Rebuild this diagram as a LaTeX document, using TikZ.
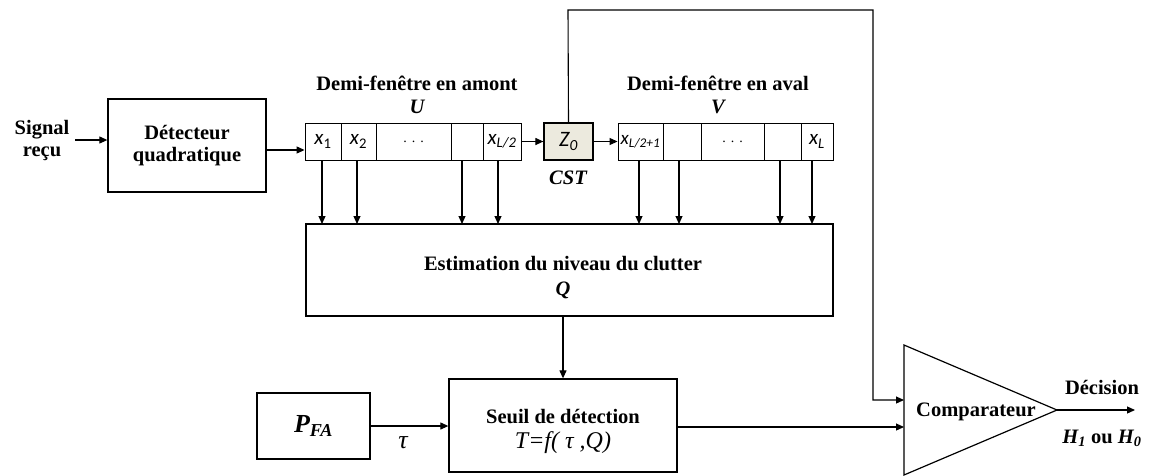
\documentclass[tikz,border=0pt]{standalone}
\usepackage{fontspec}
\setmainfont{Liberation Serif}
\newfontfamily\calfont{Carlito}
\usetikzlibrary{arrows.meta,positioning}
\begin{document}
\begin{tikzpicture}[x=1pt,y=-1pt,
  box/.style={draw,line width=1.3pt,inner sep=0pt},
  cell/.style={draw,line width=0.9pt,inner sep=0pt,minimum height=37pt},
  arr/.style={line width=1.1pt,-{Triangle[length=8pt,width=7pt]}},
  btxt/.style={font=\fontsize{20.5}{22}\selectfont\bfseries,align=center,inner sep=0pt},
  bitxt/.style={font=\fontsize{20.5}{22}\selectfont\bfseries\itshape,inner sep=0pt},
  ctxt/.style={font=\fontsize{21}{23}\selectfont\calfont\itshape,inner sep=0pt}]
\useasboundingbox (0,0) rectangle (1159,475);
% input
\node[btxt] (sig) at (42,140) {Signal\\reçu};
\node[box,minimum width=158pt,minimum height=93pt] (det) at (187,145.5) {};
\node[btxt] at (det.center) {Détecteur\\quadratique};
% U cells
\node[cell,minimum width=36pt] (u1) at (323,141.5) {};
\node[cell,minimum width=35pt] (u2) at (358.5,141.5) {};
\node[cell,minimum width=75pt] (u3) at (413.5,141.5) {};
\node[cell,minimum width=32pt] (u4) at (467,141.5) {};
\node[cell,minimum width=38pt] (u5) at (502,141.5) {};
\node[ctxt] at (u1) {x\textsubscript{\upshape 1}};
\node[ctxt] at (u2) {x\textsubscript{\upshape 2}};
\node[font=\fontsize{14}{16}\selectfont] at (u3) {.\hspace{5pt}.\hspace{5pt}.};
\node[ctxt] at (u5) {x\textsubscript{L/2}};
% Z0
\node[cell,fill={rgb,255:red,236;green,234;blue,222},line width=1.2pt,minimum width=49pt] (z0) at (568.5,141.5) {};
\node[ctxt,font=\fontsize{22}{24}\selectfont\calfont\itshape] at (z0) {Z\textsubscript{0}};
% V cells
\node[cell,minimum width=45pt] (v1) at (640.5,141.5) {};
\node[cell,minimum width=38pt] (v2) at (682,141.5) {};
\node[cell,minimum width=63pt] (v3) at (732.5,141.5) {};
\node[cell,minimum width=37pt] (v4) at (782.5,141.5) {};
\node[cell,minimum width=32pt] (v5) at (817,141.5) {};
\node[ctxt,font=\fontsize{19}{21}\selectfont\calfont\itshape] at (v1) {x\textsubscript{L/2+1}};
\node[font=\fontsize{14}{16}\selectfont] at (v3) {.\hspace{5pt}.\hspace{5pt}.};
\node[ctxt] at (v5) {x\textsubscript{L}};
% labels
\node[btxt] (ulab) at (417,83) {Demi-fenêtre en amont};
\node[bitxt] (uu) at (417,107) {U};
\node[btxt] (vlab) at (718,83) {Demi-fenêtre en aval};
\node[bitxt] (vv) at (718,107) {V};
\node[bitxt] (cst) at (568,178) {CST};
% estimation
\node[box,minimum width=527pt,minimum height=92pt] (est) at (569.5,270) {};
\node[btxt] (estl) at (563,264) {Estimation du niveau du clutter};
\node[bitxt] (q) at (563,290) {Q};
% seuil
\node[box,minimum width=228pt,minimum height=93pt] (seuil) at (563,425.5) {};
\node[btxt] (seuill) at (563,416) {Seuil de détection};
\node[font=\fontsize{24}{26}\selectfont\itshape,inner sep=0pt] (tf) at (563,443) {T=f( τ ,Q)};
% PFA
\node[box,minimum width=113pt,minimum height=66pt] (pfa) at (313.5,426) {};
\node[font=\fontsize{26}{28}\selectfont\bfseries\itshape] at (pfa) {P\textsubscript{FA}};
\node[font=\fontsize{26}{28}\selectfont\itshape,inner sep=0pt] (tau) at (403,443) {τ};
% comparator
\coordinate (tl) at (904,345);
\coordinate (bl) at (904,475);
\coordinate (ap) at (1057,410);
\draw[line width=1.2pt] (tl) -- (ap) -- (bl) -- cycle;
\node[btxt] (comp) at (976,412) {Comparateur};
\coordinate (cin1) at (904,400);
\coordinate (cin2) at (904,427);
\coordinate (out) at (1135,410);
\node[btxt] (dec) at (1102,387) {Décision};
\node[btxt] (hyp) at (1102,438) {\textit{H\textsubscript{1}} ou \textit{H\textsubscript{0}}};
% connectors
\draw[arr] (75,140) -- (det.west |- 0,140);
\draw[arr] (det.east |- 0,150) -- (u1.west |- 0,150);
\draw[arr] (u5.east) -- (z0.west);
\draw[arr] (z0.east) -- (v1.west);
\foreach \n/\xx in {u1/322,u2/357,u4/462,u5/498,v1/639,v2/679,v4/780,v5/812}
  \draw[arr] (\xx,160) -- (\xx,224);
\draw[arr] (est.south -| 563,0) -- (seuil.north);
\draw[arr] (pfa.east) -- (seuil.west |- pfa.east);
\draw[arr] (seuil.east |- cin2) -- (cin2);
\draw[arr] (z0.north) -- (568,10) -- (873,10) -- (873,400) -- (cin1);
\draw[arr] (ap) -- (out);
\end{tikzpicture}
\end{document}
